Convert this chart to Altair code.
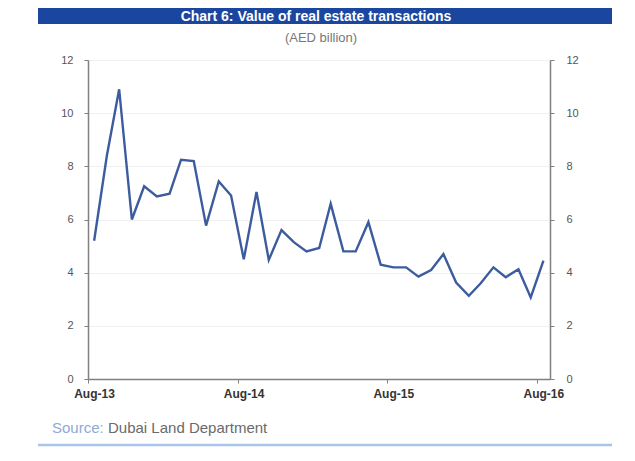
import altair as alt
import pandas as pd

# ---- data (AED billion, monthly Aug-13 .. Aug-16) ----
START_MONTH = "2013-08-01"
VALUES = [5.2, 8.4, 10.9, 6.0, 7.25, 6.87, 6.97, 8.25, 8.2, 5.77, 7.43, 6.9,
          4.5, 7.04, 4.48, 5.6, 5.15, 4.8, 4.93, 6.59, 4.8, 4.8, 5.9, 4.3,
          4.2, 4.2, 3.85, 4.1, 4.7, 3.63, 3.13, 3.6, 4.2, 3.83, 4.13, 3.07,
          4.45]
TICK_YEARS = [2013, 2014, 2015, 2016]
Y_TICKS = [0, 2, 4, 6, 8, 10, 12]
TITLE = "Chart 6: Value of real estate transactions"
SUBTITLE = "(AED billion)"
SOURCE_LABEL = "Source:"
SOURCE_TEXT = "Dubai Land Department"

months = pd.date_range(START_MONTH, periods=len(VALUES), freq="MS") + pd.Timedelta(days=15)
df = pd.DataFrame({"date": months, "v": VALUES})

LINE_COLOR = "#3d5c9e"
AXIS_COLOR = "#808080"
LABEL_COLOR = "#555555"
FONT = "Liberation Sans"

x_enc = alt.X(
    "date:T",
    scale=alt.Scale(domain=[alt.DateTime(year=2013, month=8, date=1),
                            alt.DateTime(year=2016, month=9, date=1)]),
    axis=alt.Axis(
        values=[alt.DateTime(year=y, month=8, date=1) for y in TICK_YEARS],
        format="%b-%y", title=None, grid=False,
        labelFont=FONT, labelFontSize=12, labelFontWeight="bold",
        labelColor="#333333", labelOffset=6, labelPadding=5,
        tickSize=4, tickColor=AXIS_COLOR, domainColor=AXIS_COLOR, domainWidth=1.5,
        labelFlush=False,
    ),
)

yscale = alt.Scale(domain=[0, 12], nice=False)

line_left = alt.Chart(df).mark_line(color=LINE_COLOR, strokeWidth=2.4).encode(
    x=x_enc,
    y=alt.Y("v:Q", scale=yscale, axis=alt.Axis(
        orient="left", values=Y_TICKS, title=None, grid=True, gridColor="#f0f0f0",
        labelFont=FONT, labelFontSize=11, labelColor=LABEL_COLOR, labelPadding=11,
        tickSize=4, tickColor=AXIS_COLOR, domainColor=AXIS_COLOR, domainWidth=1.5)),
)

line_right = alt.Chart(df).mark_line(opacity=0).encode(
    x=x_enc,
    y=alt.Y("v:Q", scale=yscale, axis=alt.Axis(
        orient="right", values=Y_TICKS, title=None, grid=False,
        labelFont=FONT, labelFontSize=11, labelColor=LABEL_COLOR, labelPadding=12,
        tickSize=4, tickColor=AXIS_COLOR, domainColor=AXIS_COLOR, domainWidth=1.5)),
)

one = pd.DataFrame({"t": [TITLE], "s": [SUBTITLE], "a": [SOURCE_LABEL], "b": [SOURCE_TEXT]})

banner = alt.Chart(one).mark_rect(color="#1a46a0").encode(
    x=alt.value(-50), x2=alt.value(524), y=alt.value(-70), y2=alt.value(-36))
title = alt.Chart(one).mark_text(
    color="white", font=FONT, fontSize=14, fontWeight="bold",
    align="center", baseline="alphabetic").encode(
    x=alt.value(228), y=alt.value(-39), text="t:N")
subtitle = alt.Chart(one).mark_text(
    color="#777777", font=FONT, fontSize=13, align="center", baseline="middle").encode(
    x=alt.value(233), y=alt.value(-22), text="s:N")
src_a = alt.Chart(one).mark_text(
    color="#8eaad8", font=FONT, fontSize=15, align="left", baseline="middle").encode(
    x=alt.value(-36), y=alt.value(368), text="a:N")
src_b = alt.Chart(one).mark_text(
    color="#6a6a6a", font=FONT, fontSize=15, align="left", baseline="middle").encode(
    x=alt.value(20), y=alt.value(368), text="b:N")
bottom_rule = alt.Chart(one).mark_rule(color="#a9c4ea", strokeWidth=2.5).encode(
    x=alt.value(-50), x2=alt.value(524), y=alt.value(385))

chart = alt.layer(
    banner, title, subtitle, src_a, src_b, bottom_rule, line_left, line_right
).resolve_scale(y="independent").properties(
    width=462, height=319,
    autosize=alt.AutoSizeParams(type="none"),
    padding={"left": 80, "top": 52, "right": 77, "bottom": 69},
    background="white",
).configure_view(stroke=None)

chart.save("out.html", embed_options={"renderer": "svg", "actions": False})
